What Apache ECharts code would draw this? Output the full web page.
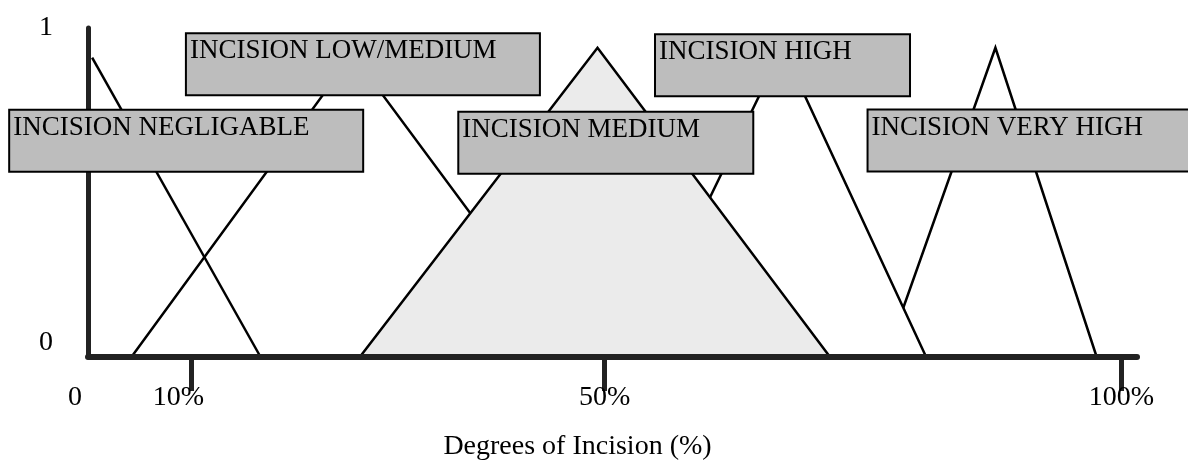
<!DOCTYPE html>
<html>
<head>
<meta charset="utf-8">
<script src="https://cdn.jsdelivr.net/npm/echarts@6/dist/echarts.min.js"></script>
<style>
  html, body { margin: 0; padding: 0; background: #fff; }
  #chart { width: 1188px; height: 466px; }
</style>
</head>
<body>
<div id="chart"></div>
<script>
// membership functions, [degree %, membership]
const setNames = ['INCISION NEGLIGABLE', 'INCISION LOW/MEDIUM', 'INCISION MEDIUM', 'INCISION HIGH', 'INCISION VERY HIGH'];
const negligible = [[0.4, 0.91], [16.7, 0]];
const lowMedium = [[4.2, 0], [25.6, 0.92], [47.3, 0]];
const medium = [[26.3, 0], [49.3, 0.94], [71.8, 0]];
const high = [[52.7, 0], [67.2, 0.94], [81.1, 0]];
const veryHigh = [[77.2, 0], [87.8, 0.94], [97.6, 0]];

const xTickValues = [10, 50, 100];
const xLabelValues = [0, 10, 50, 100];
const yLabelValues = [0, 1];

// where the name boxes sit (box centre in axis units) and how wide they are
const boxAnchors = [[9.5, 0.657], [26.6, 0.89], [50.1, 0.651], [67.2, 0.887], [91.2, 0.658]];
const boxWidths = [352, 352, 293, 253, 324];

const FONT = "'Liberation Serif', 'Times New Roman', serif";

const chart = echarts.init(document.getElementById('chart'));

// each triangle gets its own z so a filled one hides the lines behind it
function tri(name, data, fill, z) {
  return {
    name: name,
    type: 'line',
    z: z,
    data: data,
    symbol: 'none',
    silent: true,
    lineStyle: { color: '#000', width: 2.5, join: 'miter' },
    areaStyle: fill ? { color: fill, opacity: 1 } : undefined
  };
}

const option = {
  animation: false,
  grid: { left: 88, right: 51, top: 28, bottom: 103 },
  xAxis: {
    type: 'value',
    min: 0,
    max: 101.5,
    z: 20,
    name: 'Degrees of Incision (%)',
    nameLocation: 'middle',
    nameGap: 76,
    nameTextStyle: { fontFamily: FONT, fontSize: 28, color: '#000', padding: [0, 70, 0, 0] },
    axisLine: { lineStyle: { color: '#222', width: 6 } },
    axisTick: {
      show: true,
      customValues: xTickValues,
      length: 34,
      lineStyle: { color: '#222', width: 5 }
    },
    axisLabel: {
      customValues: xLabelValues,
      margin: 27,
      fontFamily: FONT,
      fontSize: 28,
      color: '#000',
      formatter: function (v) {
        if (v === 0) return '{s|0}';
        if (v === 10) return '{s|10%}';
        return '{n|' + v + '%}';
      },
      rich: {
        s: { fontFamily: FONT, fontSize: 28, color: '#000', padding: [0, 26, 0, 0] },
        n: { fontFamily: FONT, fontSize: 28, color: '#000' }
      }
    },
    splitLine: { show: false }
  },
  yAxis: {
    type: 'value',
    min: 0,
    max: 1,
    interval: 1,
    z: 20,
    axisLine: { show: true, lineStyle: { color: '#222', width: 5 } },
    axisTick: { show: false },
    axisLabel: {
      customValues: yLabelValues,
      margin: 35,
      fontFamily: FONT,
      fontSize: 28,
      color: '#000',
      formatter: function (v) {
        return v === 0 ? '{lo|0}' : '{hi|1}';
      },
      rich: {
        lo: { fontFamily: FONT, fontSize: 28, color: '#000', padding: [0, 0, 28, 0] },
        hi: { fontFamily: FONT, fontSize: 28, color: '#000', padding: [0, 0, 0, 0] }
      }
    },
    splitLine: { show: false }
  },
  series: [
    tri(setNames[4], veryHigh, null, 2),
    tri(setNames[3], high, '#fff', 3),
    tri(setNames[1], lowMedium, '#fff', 4),
    tri(setNames[2], medium, '#ebebeb', 5),
    tri(setNames[0], negligible, null, 6),
    {
      type: 'scatter',
      silent: true,
      symbolSize: 0,
      clip: false,
      z: 30,
      itemStyle: { opacity: 1 },
      data: boxAnchors.map(function (p, i) {
        return {
          value: p,
          label: {
            show: true,
            position: 'inside',
            opacity: 1,
            formatter: '{t|' + setNames[i] + '}',
            width: boxWidths[i] - 3,
            padding: [2, 0, 28, 3],
            backgroundColor: '#bdbdbd',
            borderColor: '#000',
            borderWidth: 2,
            rich: {
              t: { fontFamily: FONT, fontSize: 27, lineHeight: 30, color: '#000', align: 'left' }
            }
          }
        };
      })
    }
  ]
};

chart.setOption(option);
window.addEventListener('resize', function () { chart.resize(); });
</script>
</body>
</html>
